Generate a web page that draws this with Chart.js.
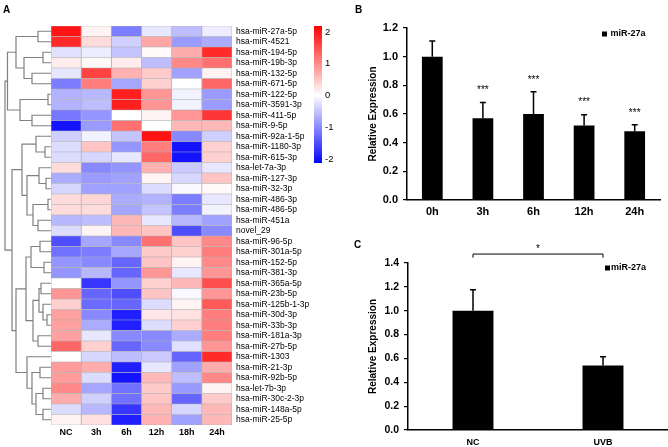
<!DOCTYPE html>
<html><head><meta charset="utf-8">
<script src="https://cdn.jsdelivr.net/npm/chart.js@4.4.1/dist/chart.umd.min.js"></script>
<style>
html,body{margin:0;padding:0;background:#fff;}
#wrap{position:relative;width:668px;height:447px;overflow:hidden;background:#fff;font-family:'Liberation Sans',Arial,sans-serif;}
canvas{position:absolute;}
.lab{position:absolute;font-weight:bold;font-size:10px;line-height:10px;color:#000;}
</style></head><body>
<div id="wrap">
<canvas id="dendro" style="left:0;top:0" width="51" height="447"></canvas>
<canvas id="heat" style="left:0;top:0" width="340" height="447"></canvas>
<canvas id="cbar" style="left:300px;top:0" width="40" height="447"></canvas>
<canvas id="chB" style="left:340px;top:0" width="328" height="230"></canvas>
<canvas id="chC" style="left:340px;top:230px" width="328" height="217"></canvas>
<div class="lab" style="left:3px;top:5px">A</div>
<div class="lab" style="left:355px;top:5px">B</div>
<div class="lab" style="left:354px;top:240px">C</div>
</div>
<script>
// ---------- Panel A data ----------
const rowLabels = ['hsa-miR-27a-5p','hsa-miR-4521','hsa-miR-194-5p','hsa-miR-19b-3p','hsa-miR-132-5p','hsa-miR-671-5p','hsa-miR-122-5p','hsa-miR-3591-3p','hsa-miR-411-5p','hsa-miR-9-5p','hsa-miR-92a-1-5p','hsa-miR-1180-3p','hsa-miR-615-3p','hsa-let-7a-3p','hsa-miR-127-3p','hsa-miR-32-3p','hsa-miR-486-3p','hsa-miR-486-5p','hsa-miR-451a','novel_29','hsa-miR-96-5p','hsa-miR-301a-5p','hsa-miR-152-5p','hsa-miR-381-3p','hsa-miR-365a-5p','hsa-miR-23b-5p','hsa-miR-125b-1-3p','hsa-miR-30d-3p','hsa-miR-33b-3p','hsa-miR-181a-3p','hsa-miR-27b-5p','hsa-miR-1303','hsa-miR-21-3p','hsa-miR-92b-5p','hsa-let-7b-3p','hsa-miR-30c-2-3p','hsa-miR-148a-5p','hsa-miR-25-5p'];
const colLabels = ['NC','3h','6h','12h','18h','24h'];
const zNC  = [2.0,1.8,-0.25,0.15,-0.2,-1.1,-0.65,-0.65,-1.15,-2.0,-0.4,-0.3,-0.3,0.3,-0.7,-0.35,0.3,0.3,-0.6,-0.3,-1.5,-1.2,-0.9,-0.9,0.0,0.9,0.4,0.8,0.8,0.8,1.3,0.0,0.85,0.85,1.0,0.7,-0.3,0.1];
const z3h  = [0.1,0.3,-0.15,0.05,1.6,1.1,-0.6,-0.55,-0.9,-0.85,-0.1,0.5,-0.35,-1.0,-0.85,-0.8,0.35,0.3,-0.55,0.1,-0.75,-1.1,-1.0,-0.6,-1.7,-1.3,-1.25,-1.0,-0.7,-0.2,0.4,-0.35,0.7,-0.3,-0.75,-0.4,-0.6,0.25];
const z6h  = [-1.1,-0.4,-0.5,0.15,0.65,-0.75,1.9,1.9,0.0,1.2,-0.5,-0.9,-0.2,-0.9,-0.8,-0.8,-0.7,-0.75,0.6,0.6,-1.0,-0.75,-1.3,-1.3,-0.9,-1.5,-1.3,-1.9,-1.9,-1.0,-1.3,-0.55,-1.9,-2.0,-1.2,-1.2,-1.7,-1.9];
const z12h = [-0.2,0.75,0.05,-0.55,0.45,0.4,0.9,0.9,0.1,0.0,2.0,1.1,1.3,0.65,0.1,-0.3,-0.65,-0.5,-0.2,0.5,1.2,0.45,0.5,0.9,0.4,0.5,-0.3,0.2,-0.3,-1.0,-1.0,-0.45,-0.2,0.6,0.45,0.5,0.6,0.65];
const z18h = [-0.55,-0.85,0.7,1.0,-0.8,0.0,-0.1,-0.1,0.9,0.6,-1.0,-2.0,-2.0,-0.45,-0.35,-0.05,-1.1,-1.1,-0.6,-1.5,0.5,0.4,0.1,-0.2,0.6,-0.05,0.1,0.25,0.4,-0.7,-0.25,-1.3,-0.8,-0.55,-0.85,-1.3,-0.35,-0.8];
const z24h = [-0.15,-0.7,1.8,1.2,0.1,1.3,-0.85,-0.85,1.7,0.6,-0.4,0.4,0.4,-0.2,0.5,0.05,-0.2,-0.1,-0.8,-1.0,1.0,1.1,1.0,0.9,1.5,0.9,1.4,1.1,1.1,1.1,0.9,1.8,0.7,1.0,0.1,0.45,0.6,0.6];
const colorMin = -2.13, colorMax = 2.19;
const cbTicks = [-2,-1,0,1,2];
// row dendrogram: [mergeHeight, left, right]; leaves = row numbers (1-based)
const dendro = [46,
  [43.5, [35, [13,1,2], [27,[8,3,4],[19,5,6]]], [31,[3,7,8],[19,9,10]]],
  [39,
    [29, [15, 11, [6,12,13]], [24, [12, 14, [5,15,16]], [18, [3,17,18], [13,19,20]]]],
    [35,
      [25, [20, [11,21,22], [7,23,24]], [18, [12, [10,25,26], [8, 27, [4,28,29]]], [13,30,31]]],
      [24, 32, [19, [11,33,34], [15, [8,35,36], [8,37,38]]]]]]];

// ---------- Panel B data ----------
const catB = ['0h','3h','6h','12h','24h'];
const meanB = [1.0,0.57,0.60,0.52,0.48];
const sdB = [0.11,0.11,0.155,0.075,0.045];
const sigB = ['','***','***','***','***'];
// ---------- Panel C data ----------
const catC = ['NC','UVB'];
const meanC = [1.0,0.54];
const sdC = [0.175,0.075];
const sigC = '*';
const seriesName = 'miR-27a';

const FONT = "'Liberation Sans', Arial, sans-serif";
Chart.defaults.font.family = FONT;
Chart.defaults.color = '#000';

function zColor(z){
  const m = 2.16;
  const t = Math.min(Math.abs(z)/m, 1);
  const c = Math.round(255*(1-t));
  return z >= 0 ? `rgb(255,${c},${c})` : `rgb(${c},${c},255)`;
}

// ---------- Dendrogram ----------
const segs = [];
function walk(n){
  if (typeof n === 'number') return {y: n - 0.5, h: 0};
  const a = walk(n[1]), b = walk(n[2]);
  segs.push([{x:a.h,y:a.y},{x:n[0],y:a.y},{x:n[0],y:b.y},{x:b.h,y:b.y}]);
  return {y:(a.y+b.y)/2, h:n[0]};
}
walk(dendro);
new Chart(document.getElementById('dendro'), {
  type:'scatter',
  data:{datasets: segs.map(s=>({data:s, showLine:true, borderColor:'#808080', borderWidth:1.2, pointRadius:0, fill:false}))},
  options:{responsive:false, animation:false, devicePixelRatio:1,
    layout:{padding:{left:0,right:0,top:26,bottom:22}},
    plugins:{legend:{display:false}, tooltip:{enabled:false}},
    scales:{x:{type:'linear', min:0, max:51, reverse:true, display:false},
            y:{type:'linear', min:0, max:rowLabels.length, reverse:true, display:false}}}
});

// ---------- Heatmap ----------
const cols = [zNC,z3h,z6h,z12h,z18h,z24h];
new Chart(document.getElementById('heat'), {
  type:'bar',
  data:{labels: rowLabels,
    datasets: cols.map((z,j)=>({label: colLabels[j], data: z.map(()=>1),
      backgroundColor: z.map(zColor), borderColor:'#b0b0b0', borderWidth:0.7, borderSkipped:false,
      categoryPercentage:1, barPercentage:1}))},
  options:{indexAxis:'y', responsive:false, animation:false, devicePixelRatio:1,
    layout:{padding:{left:51, top:26, right:0, bottom:0}},
    plugins:{legend:{display:false}, tooltip:{enabled:false}},
    scales:{
      x:{type:'linear', stacked:true, min:0, max:6, position:'bottom',
         grid:{display:false, drawTicks:false}, border:{display:false},
         afterBuildTicks: s=>{ s.ticks = colLabels.map((_,i)=>({value:i+0.5})); },
         afterFit: s=>{ s.height = 22; },
         ticks:{autoSkip:false, maxRotation:0, padding:2, font:{size:9, weight:'bold'}, color:'#000',
                callback:(v,i)=>colLabels[i]}},
      y:{type:'category', stacked:true, position:'right',
         grid:{display:false, drawTicks:false}, border:{display:false},
         afterFit: s=>{ s.width = 108; },
         ticks:{autoSkip:false, padding:4, color:'#000', font:{size:8.5}}}
    }}
});

// ---------- Colour bar ----------
new Chart(document.getElementById('cbar'), {
  type:'bar',
  data:{labels:[''], datasets:[{data:[[colorMin,colorMax]], borderWidth:0, categoryPercentage:1, barPercentage:1,
    backgroundColor: ctx=>{
      const ch = ctx.chart, ca = ch.chartArea;
      if (!ca) return '#fff';
      const ys = ch.scales.y;
      const g = ch.ctx.createLinearGradient(0, ca.bottom, 0, ca.top);
      const z0 = (ys.getPixelForValue(0) - ca.bottom)/(ca.top - ca.bottom);
      g.addColorStop(0, zColor(colorMin)); g.addColorStop(z0, '#ffffff'); g.addColorStop(1, zColor(colorMax));
      return g;
    }}]},
  options:{responsive:false, animation:false, devicePixelRatio:1,
    layout:{padding:{left:14, top:26, bottom:284, right:0}},
    plugins:{legend:{display:false}, tooltip:{enabled:false}},
    scales:{x:{display:false},
      y:{position:'right', min:colorMin, max:colorMax,
         afterBuildTicks: s=>{ s.ticks = cbTicks.map(v=>({value:v})); },
         grid:{display:false, drawTicks:false}, border:{display:false},
         afterFit: s=>{ s.width = 18; },
         ticks:{padding:3, font:{size:9.5}, color:'#000'}}}}
});

// ---------- plugins for B / C ----------
const errPlugin = {id:'errbars', afterDatasetsDraw(chart, args, o){
  const ctx = chart.ctx, meta = chart.getDatasetMeta(0), ys = chart.scales.y;
  const vals = chart.data.datasets[0].data;
  ctx.save(); ctx.strokeStyle = '#000'; ctx.fillStyle = '#000'; ctx.lineWidth = 1.5;
  meta.data.forEach((bar,i)=>{
    const x = bar.x, y0 = ys.getPixelForValue(vals[i]), y1 = ys.getPixelForValue(vals[i] + o.err[i]);
    ctx.beginPath(); ctx.moveTo(x, y0); ctx.lineTo(x, y1);
    ctx.moveTo(x - o.cap, y1); ctx.lineTo(x + o.cap, y1); ctx.stroke();
    if (o.sig && o.sig[i]) {
      ctx.font = '10px ' + FONT; ctx.textAlign = 'center'; ctx.textBaseline = 'middle';
      ctx.fillText(o.sig[i], x, y1 - o.gap);
    }
  });
  ctx.restore();
}};
const legPlugin = {id:'boxlegend', afterDraw(chart, args, o){
  const ca = chart.chartArea, ctx = chart.ctx, ds = chart.data.datasets[0];
  const x = ca.right - o.dx, y = ca.top + o.dy;
  ctx.save();
  ctx.fillStyle = ds.backgroundColor; ctx.fillRect(x, y - o.box/2, o.box, o.box);
  ctx.font = 'bold 9px ' + FONT; ctx.textBaseline = 'middle'; ctx.textAlign = 'left'; ctx.fillStyle = '#000';
  ctx.fillText(ds.label, x + o.box + o.gap, y);
  ctx.restore();
}};
const bracketPlugin = {id:'bracket', afterDraw(chart, args, o){
  if (!o.text) return;
  const ctx = chart.ctx, meta = chart.getDatasetMeta(0), ys = chart.scales.y;
  const x0 = meta.data[0].x, x1 = meta.data[1].x, y = ys.getPixelForValue(o.level), yt = ys.getPixelForValue(o.level - o.drop);
  ctx.save(); ctx.strokeStyle = '#000'; ctx.lineWidth = 1;
  ctx.beginPath(); ctx.moveTo(x0, yt); ctx.lineTo(x0, y); ctx.lineTo(x1, y); ctx.lineTo(x1, yt); ctx.stroke();
  ctx.fillStyle = '#000'; ctx.font = '10px ' + FONT; ctx.textAlign = 'center'; ctx.textBaseline = 'middle';
  ctx.fillText(o.text, (x0 + x1)/2, y - 5);
  ctx.restore();
}};

function barOpts(cfg){
  return {responsive:false, animation:false, devicePixelRatio:1,
    layout:{padding:{top:cfg.top, right:cfg.right, left:0, bottom:0}},
    plugins:{legend:{display:false}, tooltip:{enabled:false},
      errbars:{err:cfg.err, sig:cfg.sig, cap:3, gap:12},
      boxlegend:cfg.leg,
      bracket:cfg.bracket || {}},
    scales:{
      x:{grid:{display:false, drawTicks:false}, border:{color:'#000', width:1.5},
         afterFit: s=>{ s.height = cfg.xh; },
         ticks:{padding:cfg.xpad, font:{size:cfg.xfont, weight:'bold'}, color:'#000'}},
      y:{min:0, max:cfg.max,
         ticks:{stepSize:0.2, padding:5, font:{size:cfg.yfont, weight:'bold'}, color:'#000', callback:v=>v.toFixed(1)},
         grid:{drawOnChartArea:false, drawTicks:true, tickLength:4, color:'#000', lineWidth:1.2},
         border:{color:'#000', width:1.5},
         title:{display:true, text:'Relative Expression', font:{size:10, weight:'bold'}, color:'#000', padding:{top:27, bottom:0}},
         afterFit: s=>{ s.width = cfg.yw; }}}};
}

new Chart(document.getElementById('chB'), {
  type:'bar',
  data:{labels:catB, datasets:[{label:seriesName, data:meanB, backgroundColor:'#000', categoryPercentage:1, barPercentage:0.41}]},
  options: barOpts({top:28, right:8, err:sdB, sig:sigB, max:1.2, xh:30, xpad:5, xfont:11, yfont:11, yw:67,
                    leg:{dx:58, dy:6, box:5, gap:3.5}}),
  plugins:[errPlugin, legPlugin]
});

new Chart(document.getElementById('chC'), {
  type:'bar',
  data:{labels:catC, datasets:[{label:seriesName, data:meanC, backgroundColor:'#000', categoryPercentage:1, barPercentage:0.315}]},
  options: barOpts({top:33, right:0, err:sdC, sig:null, max:1.4, xh:17, xpad:7, xfont:9, yfont:10.5, yw:68,
                    leg:{dx:63, dy:5, box:5, gap:1},
                    bracket:{level:1.475, drop:0.03, text:sigC}}),
  plugins:[errPlugin, legPlugin, bracketPlugin]
});
</script>
</body></html>
